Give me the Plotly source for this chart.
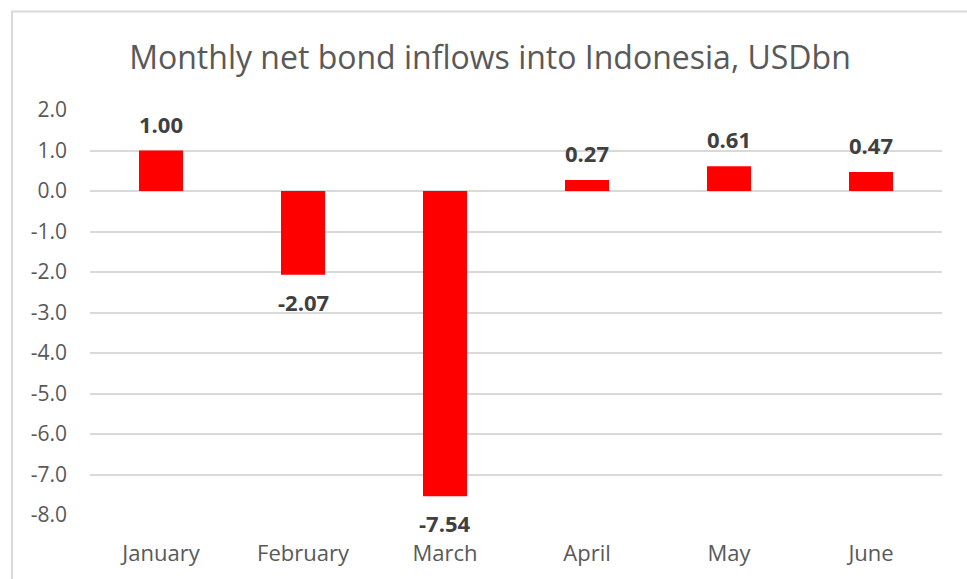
import plotly.graph_objects as go

months = ["January", "February", "March", "April", "May", "June"]
inflows = [1.00, -2.07, -7.54, 0.27, 0.61, 0.47]
labels = ["1.00", "-2.07", "-7.54", "0.27", "0.61", "0.47"]
y_ticks = [2, 1, 0, -1, -2, -3, -4, -5, -6, -7, -8]

fig = go.Figure()
fig.add_trace(go.Bar(x=months, y=inflows, marker=dict(color="#ff0000", line=dict(width=0)),
                     width=0.31, hoverinfo="skip"))

for m, v, t in zip(months, inflows, labels):
    fig.add_annotation(x=m, y=v, text="<b>%s</b>" % t, showarrow=False,
                       yanchor="middle", yshift=27 if v >= 0 else -27,
                       font=dict(family="Open Sans", size=22, color="#404040"))

fig.update_layout(
    width=967, height=579,
    margin=dict(l=90, r=25, t=110, b=62),
    paper_bgcolor="white", plot_bgcolor="white",
    showlegend=False,
    title=dict(text="Monthly net bond inflows into Indonesia, USDbn", x=490 / 967, xref="container",
               xanchor="center", y=1 - 58 / 579, yanchor="middle", yref="container",
               font=dict(family="Open Sans", size=32, color="#595959")),
    xaxis=dict(showgrid=False, showline=False, ticks="", ticklabelstandoff=23,
               tickfont=dict(family="Open Sans", size=22, color="#595959")),
    yaxis=dict(range=[-8, 2], tickvals=y_ticks, ticktext=["%.1f" % v for v in y_ticks],
               showgrid=True, gridcolor="#d9d9d9", gridwidth=1.5, zeroline=True, zerolinecolor="#d9d9d9",
               zerolinewidth=1.5, showline=False, ticks="", ticklabelstandoff=22,
               tickfont=dict(family="Open Sans", size=21, color="#595959")),
)
fig.add_shape(type="rect", xref="paper", yref="paper", x0=(12 - 90) / 852, x1=1.2,
              y0=-0.5, y1=(517 - 11) / 407, line=dict(color="#d9d9d9", width=2), layer="below")
fig.write_html("out.html")
